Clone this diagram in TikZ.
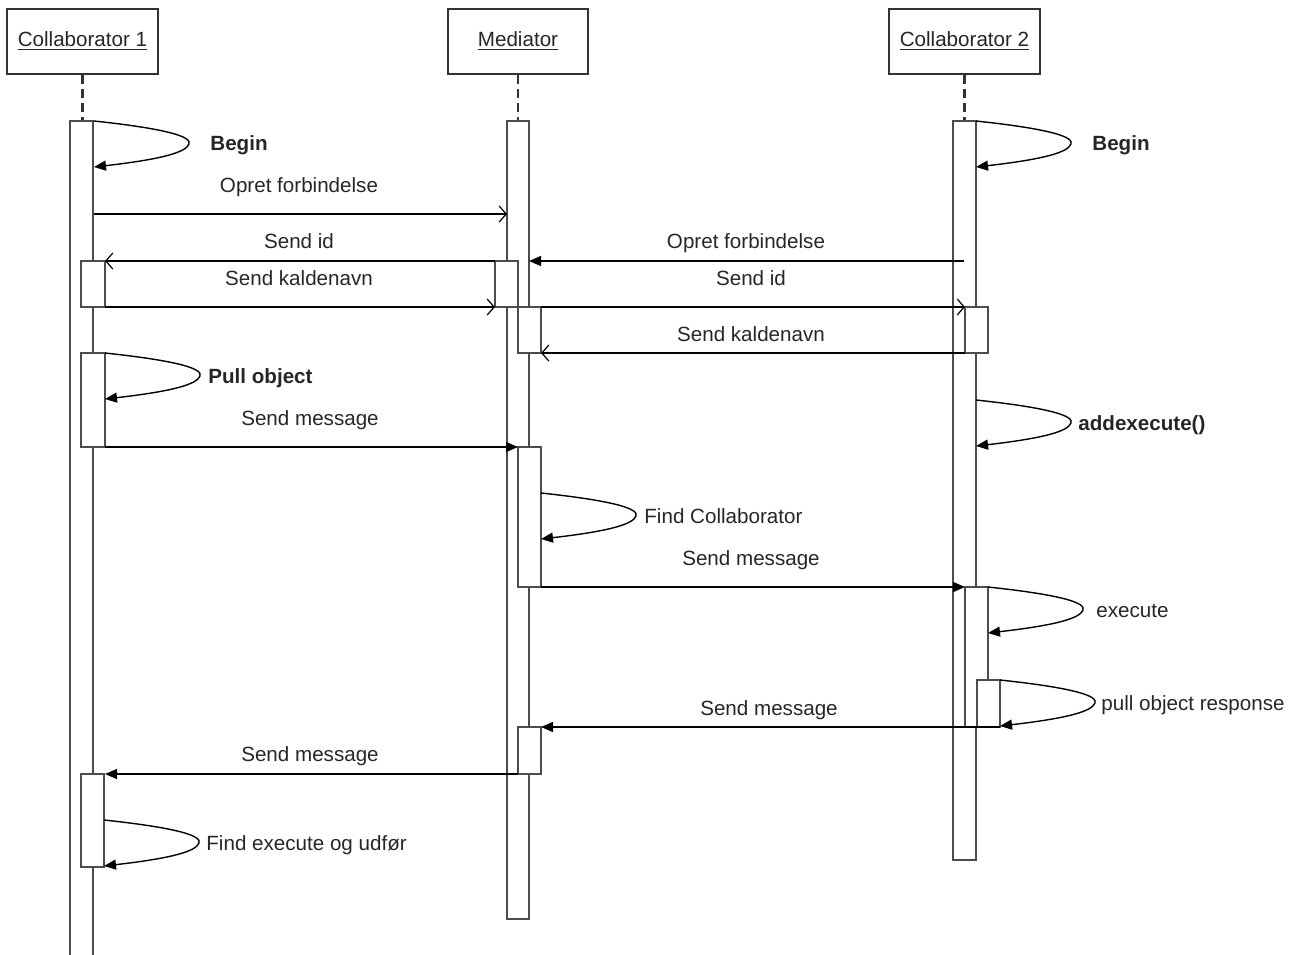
\documentclass[tikz,border=0pt]{standalone}
\usepackage{fontspec}
\setmainfont{Liberation Sans}
\usetikzlibrary{arrows.meta}
\begin{document}
\begin{tikzpicture}[x=0.5pt,y=-0.5pt,
  txt/.style={font=\fontsize{10.3}{12}\selectfont, text=black!85, inner sep=0pt},
  btxt/.style={font=\fontsize{10.3}{12}\selectfont\bfseries, text=black!85, inner sep=0pt},
  head/.style={draw=black!80, line width=1.1pt, fill=white, inner sep=0pt,
    minimum height=32.5pt, font=\fontsize{10.3}{12}\selectfont, text=black!85},
  bar/.style={draw=black!70, line width=0.9pt, fill=white},
  life/.style={draw=black!80, line width=1.1pt, dash pattern=on 4.5pt off 2.5pt},
  msg/.style={draw=black, line width=0.7pt},
  sync/.style={msg, -{Triangle[length=6pt,width=5pt]}},
  reply/.style={msg, -{Straight Barb[length=3.5pt,width=8pt,line width=0.6pt]}},
  pics/selfcall/.style={code={
    \draw[sync] (0,0) .. controls (75,8) and (98,16) .. (95,23)
                      .. controls (92,31) and (70,38) .. (0,46);}},
]
\useasboundingbox (0,0) rectangle (1297,954);

% object headers
\node[head, minimum width=75.5pt] (c1) at (82.5,41.5) {\underline{Collaborator 1}};
\node[head, minimum width=70pt]   (med) at (518,41.5) {\underline{Mediator}};
\node[head, minimum width=75.5pt] (c2) at (964.5,41.5) {\underline{Collaborator 2}};

% lifeline tops
\coordinate (c1top) at (82.5,121);
\coordinate (medtop) at (518,121);
\coordinate (c2top) at (964.5,121);
\draw[life] (c1.south) -- (c1top);
\draw[life] (med.south) -- (medtop);
\draw[life] (c2.south) -- (c2top);

% main activation bars
\draw[bar] (70,121) rectangle (93,958);
\draw[bar] (507,121) rectangle (529,919);
\draw[bar] (953,121) rectangle (976,860);

% nested activations
\draw[bar] (81,261) rectangle (105,307);
\draw[bar] (81,353) rectangle (105,447);
\draw[bar] (81,774) rectangle (104,867);
\draw[bar] (495,261) rectangle (518,307);
\draw[bar] (518,307) rectangle (541,353);
\draw[bar] (518,447) rectangle (541,587);
\draw[bar] (518,727) rectangle (541,774);
\draw[bar] (965,307) rectangle (988,353);
\draw[bar] (965,587) rectangle (988,727);
\draw[bar] (977,680) rectangle (1000,727);

% message end points
\coordinate (m1a) at (94,214);   \coordinate (m1b) at (507,214);
\coordinate (m2a) at (495,261);  \coordinate (m2b) at (105,261);
\coordinate (m3a) at (105,307);  \coordinate (m3b) at (495,307);
\coordinate (m4a) at (964,261);  \coordinate (m4b) at (529,261);
\coordinate (m5a) at (541,307);  \coordinate (m5b) at (965,307);
\coordinate (m6a) at (965,353);  \coordinate (m6b) at (541,353);
\coordinate (m7a) at (105,447);  \coordinate (m7b) at (518,447);
\coordinate (m8a) at (541,587);  \coordinate (m8b) at (965,587);
\coordinate (m9a) at (1000,727); \coordinate (m9b) at (541,727);
\coordinate (m10a) at (518,774); \coordinate (m10b) at (105,774);

% messages
\draw[reply] (m1a) -- (m1b);
\draw[reply] (m2a) -- (m2b);
\draw[reply] (m3a) -- (m3b);
\draw[sync]  (m4a) -- (m4b);
\draw[reply] (m5a) -- (m5b);
\draw[reply] (m6a) -- (m6b);
\draw[sync]  (m7a) -- (m7b);
\draw[sync]  (m8a) -- (m8b);
\draw[sync]  (m9a) -- (m9b);
\draw[sync]  (m10a) -- (m10b);

% self calls
\coordinate (s1) at (94,121);
\coordinate (s2) at (976,121);
\coordinate (s3) at (105,353);
\coordinate (s4) at (976,400);
\coordinate (s5) at (541,493);
\coordinate (s6) at (988,587);
\coordinate (s7) at (1000,680);
\coordinate (s8) at (104,820);
\pic at (s1) {selfcall};
\pic at (s2) {selfcall};
\pic at (s3) {selfcall};
\pic at (s4) {selfcall};
\pic at (s5) {selfcall};
\pic at (s6) {selfcall};
\pic at (s7) {selfcall};
\pic at (s8) {selfcall};

% labels
\node[btxt, anchor=base west] (l1) at (210,150) {Begin};
\node[btxt, anchor=base west] (l2) at (1092,150) {Begin};
\node[txt, anchor=base] (l3) at (299,192) {Opret forbindelse};
\node[txt, anchor=base] (l4) at (299,248) {Send id};
\node[txt, anchor=base] (l5) at (299,285) {Send kaldenavn};
\node[txt, anchor=base] (l6) at (746,248) {Opret forbindelse};
\node[txt, anchor=base] (l7) at (751,285) {Send id};
\node[txt, anchor=base] (l8) at (751,341) {Send kaldenavn};
\node[btxt, anchor=base west] (l9) at (208,383) {Pull object};
\node[btxt, anchor=base west] (l10) at (1078,430) {addexecute()};
\node[txt, anchor=base] (l11) at (310,425) {Send message};
\node[txt, anchor=base west] (l12) at (644,523) {Find Collaborator};
\node[txt, anchor=base] (l13) at (751,565) {Send message};
\node[txt, anchor=base west] (l14) at (1096,617) {execute};
\node[txt, anchor=base west] (l15) at (1101,710) {pull object response};
\node[txt, anchor=base] (l16) at (769,715) {Send message};
\node[txt, anchor=base] (l17) at (310,761) {Send message};
\node[txt, anchor=base west] (l18) at (206,850) {Find execute og udfør};
\end{tikzpicture}
\end{document}
